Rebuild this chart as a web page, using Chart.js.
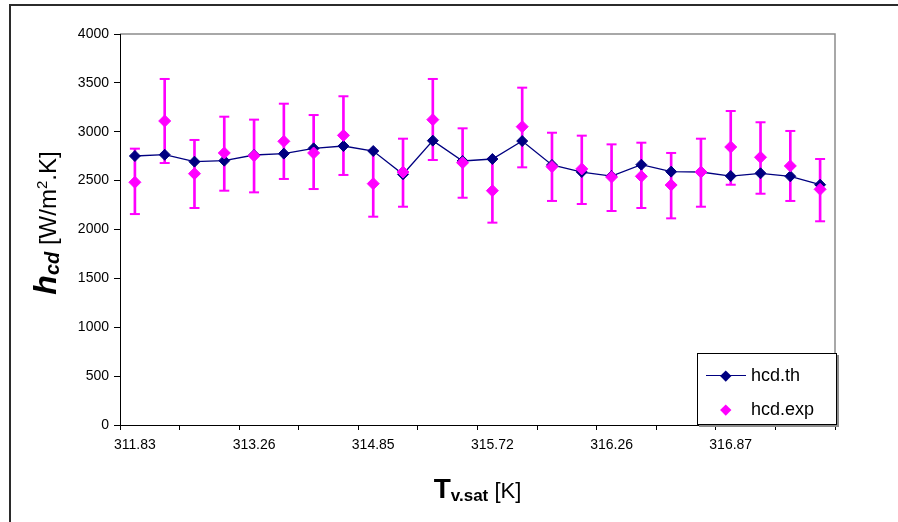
<!DOCTYPE html>
<html>
<head>
<meta charset="utf-8">
<script src="https://cdn.jsdelivr.net/npm/chart.js@4.4.1/dist/chart.umd.min.js"></script>
<style>
body{margin:0;background:#fff;font-family:"Liberation Sans",Arial,sans-serif}
#wrap{position:relative;width:898px;height:522px;overflow:hidden;background:#fff}
#frame{position:absolute;left:9px;top:4px;width:950px;height:600px;border-left:2px solid #2b2b2b;border-top:2px solid #2b2b2b}
#c{position:absolute;left:0;top:0}
#legend{position:absolute;left:697px;top:353px;width:138px;height:70px;border:1px solid #000;background:#fff;box-shadow:2px 2px 0 #8c8c8c;font-size:18px;color:#000}
#legend .ln{position:absolute;left:8px;top:21px;width:40px;height:1px;background:#000080}
#legend .dia{position:absolute;width:7.5px;height:7.5px;transform:rotate(45deg)}
#legend .txt{position:absolute;left:53px;line-height:20px}
#xt{position:absolute;left:120px;width:715px;top:473px;text-align:center;line-height:32px;color:#000;white-space:nowrap}
#yt{position:absolute;left:-154px;top:207px;width:391px;height:32px;line-height:32px;text-align:center;transform:rotate(-90deg);color:#000;white-space:nowrap}
</style>
</head>
<body>
<div id="wrap">
<canvas id="c" width="898" height="522"></canvas>
<div id="frame"></div>
<div id="legend">
  <div class="ln"></div>
  <div class="dia" style="left:24px;top:17.5px;background:#000080"></div>
  <div class="txt" style="top:11px">hcd.th</div>
  <div class="dia" style="left:24px;top:51.5px;background:#ff00ff"></div>
  <div class="txt" style="top:45px">hcd.exp</div>
</div>
<div id="xt"><b style="font-size:28px">T</b><b style="font-size:17px;vertical-align:-3px">v.sat</b><span style="font-size:22px"> [K]</span></div>
<div id="yt"><b><i style="font-size:32px">h</i><i style="font-size:20px;vertical-align:-3px">cd</i></b><span style="font-size:24px"> [W/m<sup style="font-size:15px">2</sup>.K]</span></div>
</div>
<script>
// DATA
const labelStep = 4
const tickLabels = ['311.83','313.26','314.85','315.72','316.26','316.87']

const hcdTh = [2752,2765,2694,2704,2762,2776,2830,2854,2803,2565,2909,2701,2721,2905,2660,2588,2547,2663,2592,2588,2547,2575,2544,2458]
const hcdExp = [2483,3110,2571,2783,2755,2902,2783,2963,2469,2588,3124,2683,2397,3052,2643,2620,2537,2544,2455,2588,2844,2739,2650,2411]
const expHigh = [2827,3540,2916,3154,3124,3287,3171,3363,2807,2929,3540,3035,2724,3451,2990,2960,2871,2888,2783,2929,3212,3097,3008,2721]
const expLow = [2158,2680,2220,2397,2380,2517,2414,2558,2131,2233,2711,2325,2070,2636,2292,2261,2189,2220,2114,2233,2458,2366,2292,2084]

const yMin = 0, yMax = 4000, yStep = 500

const categories = hcdTh.map((v,i)=> i % labelStep === 0 ? tickLabels[i/labelStep] : '')

// grey plot-area frame (top and right)
const plotFrame = {
id:'plotFrame',
beforeDraw(chart){
const a = chart.chartArea, c = chart.ctx
c.save()
c.strokeStyle = '#8c8c8c'
c.lineWidth = 1.5
c.beginPath()
c.moveTo(a.left, a.top)
c.lineTo(a.right, a.top)
c.lineTo(a.right, a.bottom)
c.stroke()
c.restore()
}
}

Chart.defaults.font.family = '"Liberation Sans", Arial, sans-serif'
Chart.defaults.color = '#000'

const chart = new Chart(document.getElementById('c'),{
type:'line',
data:{
labels:categories,
datasets:[
{
label:'hcd.exp',
data:hcdExp,
showLine:false,
pointStyle:'rectRot',
pointRadius:6,
pointBorderWidth:1,
backgroundColor:'#ff00ff',
borderColor:'#ff00ff',
order:0
},
{
label:'hcd.th',
data:hcdTh,
borderColor:'#000080',
borderWidth:1.3,
tension:0,
pointStyle:'rectRot',
pointRadius:5.5,
pointBorderWidth:1,
pointBackgroundColor:'#000080',
pointBorderColor:'#000080',
order:1
},
{
label:'capHigh',
data:expHigh,
showLine:false,
pointStyle:'line',
pointRadius:5,
pointBorderWidth:2,
borderColor:'#ff00ff',
order:2
},
{
label:'capLow',
data:expLow,
showLine:false,
pointStyle:'line',
pointRadius:5,
pointBorderWidth:2,
borderColor:'#ff00ff',
order:2
},
{
type:'bar',
label:'errBar',
data:hcdExp.map((v,i)=>[expLow[i],expHigh[i]]),
barThickness:2,
backgroundColor:'#ff00ff',
borderWidth:0,
order:3
}
]
},
options:{
responsive:false,
animation:false,
events:[],
layout:{padding:{left:0,top:34,right:63,bottom:0}},
plugins:{legend:{display:false},tooltip:{enabled:false}},
scales:{
x:{
offset:true,
afterFit:s=>{s.height = 97},
grid:{
offset:true,
drawOnChartArea:false,
tickLength:5,
color:ctx=> (ctx.index === undefined || ctx.index % 2 === 0) ? '#000' : 'rgba(0,0,0,0)'
},
border:{color:'#000',width:1},
ticks:{autoSkip:false,maxRotation:0,minRotation:0,padding:7,font:{size:14}}
},
y:{
min:yMin,
max:yMax,
afterFit:s=>{s.width = 120},
grid:{drawOnChartArea:false,tickLength:6,color:'#000'},
border:{color:'#000',width:1},
ticks:{stepSize:yStep,padding:5,font:{size:14},callback:v=>String(v)}
}
}
},
plugins:[plotFrame]
})
</script>
</body>
</html>
